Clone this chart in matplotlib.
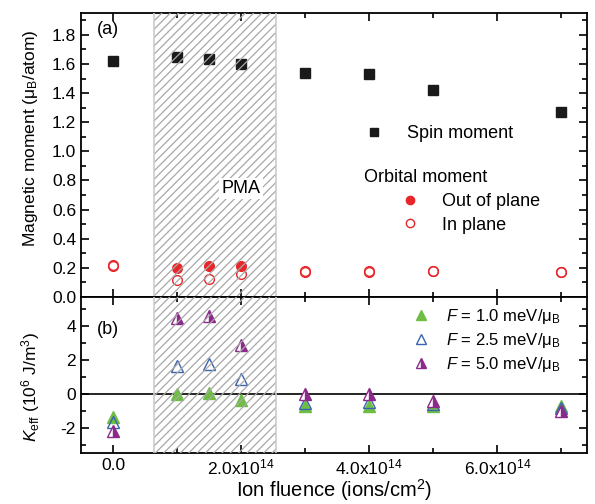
import matplotlib
matplotlib.use("Agg")
import matplotlib.pyplot as plt
import numpy as np
from matplotlib.patches import Rectangle
from matplotlib.ticker import MultipleLocator, FuncFormatter
from matplotlib.lines import Line2D

plt.rcParams['font.family'] = ['Liberation Sans', 'DejaVu Sans']
plt.rcParams['mathtext.fontset'] = 'custom'
plt.rcParams['mathtext.rm'] = 'Liberation Sans'
plt.rcParams['mathtext.it'] = 'Liberation Sans:italic'
plt.rcParams['hatch.linewidth'] = 0.9

# fluence (ions/cm^2)
fluence = [0.0, 1.0e14, 1.5e14, 2.0e14, 3.0e14, 4.0e14, 5.0e14, 7.0e14]

# panel (a) moments (mu_B/atom)
spin = [1.62, 1.645, 1.635, 1.60, 1.535, 1.53, 1.42, 1.27]
orb_out = [0.21, 0.20, 0.21, 0.215, 0.18, 0.18, 0.18, 0.17]
orb_in = [0.22, 0.12, 0.125, 0.155, 0.17, 0.17, 0.18, 0.17]

# panel (b) K_eff (10^6 J/m^3)
k_f10 = [-1.4, 0.0, 0.05, -0.35, -0.75, -0.75, -0.7, -0.75]
k_f25 = [-1.7, 1.65, 1.75, 0.85, -0.55, -0.5, -0.6, -0.85]
k_f50 = [-2.2, 4.45, 4.6, 2.85, -0.05, 0.0, -0.45, -1.0]

pma_range = (0.64e14, 2.55e14)

black = '#1a1a1a'
red = '#e8262a'
green = '#6fbe44'
blue = '#3a63b0'
purple = '#8b2a8b'

fig = plt.figure(figsize=(5.95, 5.04), dpi=100)
ax1 = fig.add_axes([0.136, 0.4107, 0.8506, 0.5635])
ax2 = fig.add_axes([0.136, 0.1012, 0.8506, 0.3095], sharex=ax1)

ms = 7
ax1.plot(fluence, spin, 's', color=black, ms=ms, ls='none', zorder=3)
# out-of-plane orbital moment is filled only inside the PMA window
for x, y in zip(fluence, orb_out):
    inside = pma_range[0] < x < pma_range[1]
    ax1.plot(x, y, 'o', mfc=red if inside else 'white', mec=red, mew=1.0, ms=ms, zorder=3)
ax1.plot(fluence, orb_in, 'o', mfc='none', mec=red, mew=1.0, ms=ms, ls='none', zorder=3)

ax2.axhline(0, color='black', lw=1.2, zorder=1)
ax2.plot(fluence, k_f10, '^', color=green, ms=ms + 1.5, ls='none', zorder=3)
ax2.plot(fluence, k_f25, '^', mfc='none', mec=blue, mew=1.0, ms=ms + 1.5, ls='none', zorder=3)
ax2.plot(fluence, k_f50, '^', color=purple, fillstyle='right', mfc=purple, mfcalt='white',
         mec=purple, ms=ms + 1.5, ls='none', zorder=3)

for ax in (ax1, ax2):
    ax.add_patch(Rectangle((pma_range[0], -10), pma_range[1] - pma_range[0], 20,
                           facecolor='none', edgecolor='#a8a8a8', hatch='////', lw=0, zorder=4))
    ax.add_patch(Rectangle((pma_range[0], -10), pma_range[1] - pma_range[0], 20,
                           facecolor='none', edgecolor='#cccccc', lw=1.2, zorder=4))

ax1.set_xlim(-0.5e14, 7.4e14)
ax1.set_ylim(0, 1.95)
ax2.set_ylim(-3.5, 5.7)

ax1.xaxis.set_major_locator(MultipleLocator(2e14))
ax1.xaxis.set_minor_locator(MultipleLocator(1e14))
ax1.yaxis.set_major_locator(MultipleLocator(0.2))
ax1.yaxis.set_minor_locator(MultipleLocator(0.1))
ax2.yaxis.set_major_locator(MultipleLocator(2))
ax2.yaxis.set_minor_locator(MultipleLocator(1))


def fmt_x(v, pos):
    if abs(v) < 1:
        return '0.0'
    return r'%.1fx10$^{14}$' % (v / 1e14)


ax2.xaxis.set_major_formatter(FuncFormatter(fmt_x))
ax1.yaxis.set_major_formatter(FuncFormatter(lambda v, p: '%.1f' % v))
ax2.yaxis.set_major_formatter(FuncFormatter(lambda v, p: '%d' % round(v)))

for ax in (ax1, ax2):
    ax.tick_params(which='both', direction='in', top=True, right=True, labelsize=12.5, width=1.2)
    ax.tick_params(which='major', length=6)
    ax.tick_params(which='minor', length=3.5)
    for s in ax.spines.values():
        s.set_linewidth(1.3)
ax1.tick_params(labelbottom=False)
ax2.tick_params(axis='x', pad=3.5)

ax1.set_ylabel(r'Magnetic moment ($\mathregular{\mu_B}$/atom)', fontsize=12.5, va='center')
ax2.set_ylabel(r'$K_{\mathregular{eff}}$ (10$^{6}$ J/m$^{3}$)', fontsize=12.5, va='center')
ax2.set_xlabel(r'Ion fluence (ions/cm$^{2}$)', fontsize=14.5, va='bottom')
ax1.yaxis.set_label_coords(-0.1, 0.56)
ax2.yaxis.set_label_coords(-0.1, 0.42)
ax2.xaxis.set_label_coords(0.5, -0.318)

ax1.text(0.032, 0.925, '(a)', transform=ax1.transAxes, fontsize=13)
ax2.text(0.032, 0.76, '(b)', transform=ax2.transAxes, fontsize=13)
ax1.text(2.0e14, 0.745, 'PMA', fontsize=13, ha='center', va='center', zorder=5,
         bbox=dict(facecolor='white', edgecolor='none', pad=1.5))

# legends panel (a)
h_spin = Line2D([], [], marker='s', color=black, ls='none', ms=6)
leg1 = ax1.legend([h_spin], ['Spin moment'], loc='upper left', bbox_to_anchor=(0.53, 0.63),
                  frameon=False, fontsize=13, handletextpad=0.8, borderaxespad=0)
ax1.add_artist(leg1)
ax1.text(0.56, 0.42, 'Orbital moment', transform=ax1.transAxes, fontsize=13, va='center')
h_out = Line2D([], [], marker='o', color=red, ls='none', ms=6)
h_in = Line2D([], [], marker='o', mfc='none', mec=red, ls='none', ms=6)
ax1.legend([h_out, h_in], ['Out of plane', 'In plane'], loc='upper left',
           bbox_to_anchor=(0.6, 0.39), frameon=False, fontsize=13,
           handletextpad=0.8, labelspacing=0.35, borderaxespad=0)

h1 = Line2D([], [], marker='^', color=green, ls='none', ms=7)
h2 = Line2D([], [], marker='^', mfc='none', mec=blue, ls='none', ms=7)
h3 = Line2D([], [], marker='^', color=purple, fillstyle='right', mfc=purple, mfcalt='white',
            mec=purple, ls='none', ms=7)
ax2.legend([h1, h2, h3],
           [r'$F$ = 1.0 meV/$\mathregular{\mu_B}$', r'$F$ = 2.5 meV/$\mathregular{\mu_B}$',
            r'$F$ = 5.0 meV/$\mathregular{\mu_B}$'],
           loc='upper left', bbox_to_anchor=(0.625, 0.98), frameon=False, fontsize=12,
           handletextpad=0.5, labelspacing=0.3, borderaxespad=0)

fig.savefig('out.png', dpi=100)
